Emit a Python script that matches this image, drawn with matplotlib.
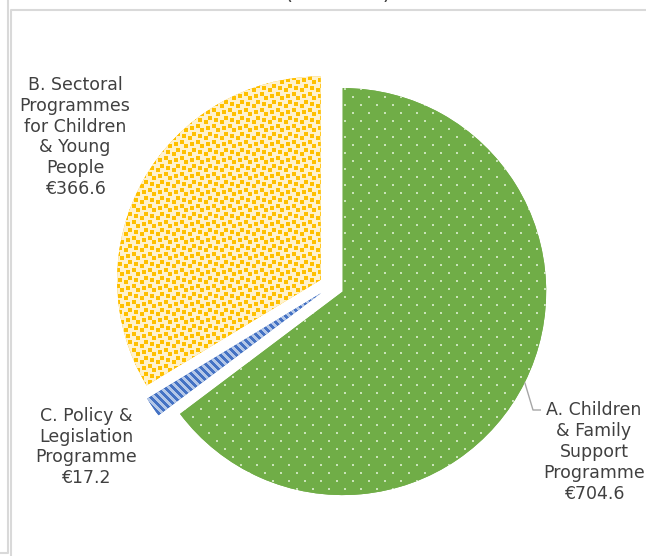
import numpy as np
import matplotlib
matplotlib.use("Agg")
import matplotlib.pyplot as plt

# programme names and gross spend (€ million), in drawing order (clockwise from 12 o'clock)
names = ["A. Children\n& Family\nSupport\nProgramme",
         "C. Policy &\nLegislation\nProgramme",
         "B. Sectoral\nProgrammes\nfor Children\n& Young\nPeople"]
values = [704.6, 17.2, 366.6]

W, H = 646, 556
TXT = "#404040"


def rgb(h):
    h = h.lstrip("#")
    return np.array([int(h[i:i + 2], 16) for i in (0, 2, 4)], dtype=np.uint8)


def texture(kind):
    yy, xx = np.mgrid[0:H, 0:W]
    img = np.zeros((H, W, 3), dtype=np.uint8)
    if kind == "dots":
        img[:] = rgb("#70AD47")
        m = (yy % 8 < 2) & ((xx + 8 * ((yy // 8) % 2)) % 16 < 2)
        img[m] = rgb("#C9E3B8")
    elif kind == "confetti":
        bits = [0x8D, 0x0C, 0xC0, 0xD8, 0x1B, 0x03, 0x30, 0xB1]
        tile = np.array([[(b >> (7 - i)) & 1 for i in range(8)] for b in bits], dtype=bool)
        tile = np.kron(tile, np.ones((2, 2), dtype=bool))
        m = tile[yy % 16, xx % 16]
        img[:] = rgb("#FFF2CC")
        img[m] = rgb("#FFC000")
    else:
        img[:] = rgb("#B4C7E7")
        m = (xx - yy) % 8 < 4
        img[m] = rgb("#4472C4")
    return img


fig = plt.figure(figsize=(W / 100, H / 100), dpi=100)
ax = fig.add_axes([0, 0, 1, 1])

radius = 203.5
centre = (331.5, H - 286)
wedges, _ = ax.pie(values, startangle=90, counterclock=False,
                   explode=[12.5] * len(values), radius=radius, center=centre,
                   colors=["#70AD47", "#4472C4", "#FFC000"],
                   wedgeprops=dict(linewidth=0))

for w, kind in zip(wedges, ["dots", "stripes", "confetti"]):
    im = ax.imshow(texture(kind), extent=(0, W, 0, H), origin="upper",
                   interpolation="nearest", zorder=3)
    im.set_clip_path(w)

ax.set_xlim(0, W)
ax.set_ylim(0, H)
ax.set_aspect("equal")
ax.axis("off")

# data labels
label_pos = [(594, H - 452), (86, H - 447), (75, H - 137)]
for name, v, (x, y) in zip(names, values, label_pos):
    ax.text(x, y, f"{name}\n€{v:.1f}", ha="center", va="center",
            multialignment="center", fontsize=12.5, color=TXT, zorder=5)

# leader line for the green slice label
w = wedges[0]
tm = np.deg2rad((w.theta1 + w.theta2) / 2)
cx, cy = w.center
p0 = (cx + w.r * np.cos(tm), cy + w.r * np.sin(tm))
ax.plot([p0[0], 533, 541], [p0[1], H - 410, H - 410], color="#A6A6A6",
        lw=1, zorder=4, solid_capstyle="butt")

# chart title, mostly above the visible area
ax.text(337.5, H + 1.2, "(€ million)", ha="center", va="baseline",
        fontsize=15, color=TXT, clip_on=False)

# chart area borders
gray = "#D9D9D9"
ax.plot([10.5, 10.5, W], [0, H - 9.5, H - 9.5], color=gray, lw=1.5, zorder=6)
ax.plot([0, 7.5, 7.5], [H - 552.5, H - 552.5, H], color=gray, lw=1.5, zorder=6)

fig.savefig("out.png", dpi=100)
